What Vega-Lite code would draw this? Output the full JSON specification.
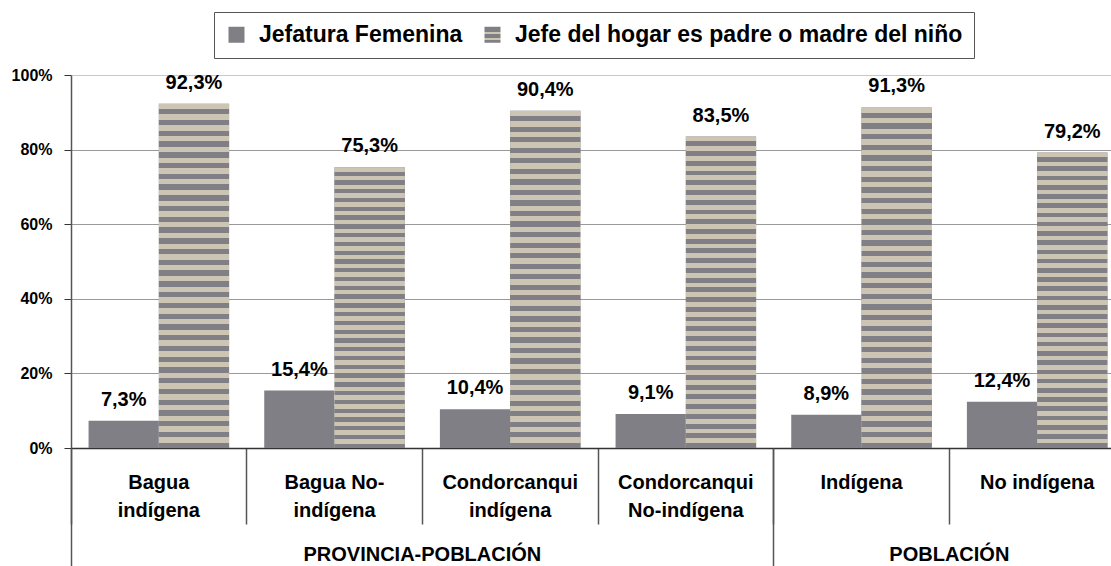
{
  "$schema": "https://vega.github.io/schema/vega-lite/v6.json",
  "width": 1040,
  "height": 373,
  "autosize": "none",
  "padding": {"left": 71, "top": 75, "right": 0, "bottom": 118},
  "background": "white",
  "config": {"view": {"stroke": null}},
  "data": {"values": [
    {"cat": "Bagua indígena", "serie": "Jefatura Femenina", "value": 7.3, "label": "7,3%"},
    {"cat": "Bagua indígena", "serie": "Jefe del hogar es padre o madre del niño", "value": 92.3, "label": "92,3%"},
    {"cat": "Bagua No-indígena", "serie": "Jefatura Femenina", "value": 15.4, "label": "15,4%"},
    {"cat": "Bagua No-indígena", "serie": "Jefe del hogar es padre o madre del niño", "value": 75.3, "label": "75,3%"},
    {"cat": "Condorcanqui indígena", "serie": "Jefatura Femenina", "value": 10.4, "label": "10,4%"},
    {"cat": "Condorcanqui indígena", "serie": "Jefe del hogar es padre o madre del niño", "value": 90.4, "label": "90,4%"},
    {"cat": "Condorcanqui No-indígena", "serie": "Jefatura Femenina", "value": 9.1, "label": "9,1%"},
    {"cat": "Condorcanqui No-indígena", "serie": "Jefe del hogar es padre o madre del niño", "value": 83.5, "label": "83,5%"},
    {"cat": "Indígena", "serie": "Jefatura Femenina", "value": 8.9, "label": "8,9%"},
    {"cat": "Indígena", "serie": "Jefe del hogar es padre o madre del niño", "value": 91.3, "label": "91,3%"},
    {"cat": "No indígena", "serie": "Jefatura Femenina", "value": 12.4, "label": "12,4%"},
    {"cat": "No indígena", "serie": "Jefe del hogar es padre o madre del niño", "value": 79.2, "label": "79,2%"}
  ]},
  "encoding": {
    "xOffset": {"field": "serie", "type": "nominal", "sort": ["Jefatura Femenina", "Jefe del hogar es padre o madre del niño"], "scale": {"paddingInner": 0, "paddingOuter": 0.25}},
    "y": {
      "field": "value", "type": "quantitative",
      "scale": {"domain": [0, 100]},
      "axis": {
        "title": null, "values": [0, 20, 40, 60, 80, 100],
        "labelExpr": "datum.value + '%'",
        "labelFont": "Liberation Sans", "labelFontWeight": "bold", "labelFontSize": 16, "labelColor": "black",
        "labelPadding": 12, "tickSize": 7, "tickColor": "#333", "domainColor": "#555", "domainWidth": 1.5,
        "gridColor": {"condition": {"test": "datum.value == 100", "value": "#c8c8c8"}, "value": "#999999"},
        "gridWidth": 1.2
      }
    }
  },
  "layer": [
    {
      "mark": {"type": "bar"},
      "encoding": {
        "x": {
          "field": "cat", "type": "nominal",
          "sort": ["Bagua indígena", "Bagua No-indígena", "Condorcanqui indígena", "Condorcanqui No-indígena", "Indígena", "No indígena"],
          "scale": {"range": [0, 1054], "paddingInner": 0, "paddingOuter": 0},
          "axis": {
            "orient": "bottom", "title": null, "bandPosition": 0, "tickSize": 76, "tickColor": "#555", "tickWidth": 1.5,
            "domainColor": "#333", "domainWidth": 1.5, "labelAngle": 0,
            "labelFont": "Liberation Sans", "labelFontWeight": "bold", "labelFontSize": 20, "labelColor": "black",
            "labelPadding": -52, "labelLineHeight": 28, "labelBound": false, "labelOverlap": false,
            "labelExpr": "datum.value == 'Bagua No-indígena' ? ['Bagua No-', 'indígena'] : (datum.value == 'Indígena' || datum.value == 'No indígena') ? datum.value : split(datum.value, ' ')"
          }
        },
        "fill": {
          "field": "serie", "type": "nominal",
          "sort": ["Jefatura Femenina", "Jefe del hogar es padre o madre del niño"],
          "scale": {"range": ["#7f7f85", {"expr": "{gradient: 'linear', x1: 0, y1: 0, x2: 0, y2: 1, stops: [{offset: 0, color: '#7f7f85'}, {offset: 0.3, color: '#7f7f85'}, {offset: 0.3, color: '#cdc5b4'}, {offset: 0.45, color: '#cdc5b4'}, {offset: 0.45, color: '#7f7f85'}, {offset: 0.7, color: '#7f7f85'}, {offset: 0.7, color: '#cdc5b4'}, {offset: 0.85, color: '#cdc5b4'}, {offset: 0.85, color: '#7f7f85'}, {offset: 1, color: '#7f7f85'}]}"}]},
          "legend": {
            "orient": "none", "legendX": 143, "legendY": -63, "direction": "horizontal", "title": null,
            "strokeColor": "#555", "padding": 11, "symbolType": "square", "symbolSize": 256, "symbolStrokeWidth": 0,
            "labelFont": "Liberation Sans", "labelFontWeight": "bold", "labelFontSize": 23, "labelColor": "black",
            "columnPadding": 18, "labelLimit": 600, "labelOffset": 11
          }
        }
      }
    },
    {
      "transform": [{"filter": "datum.serie != 'Jefatura Femenina'"}],
      "mark": {"type": "bar", "fill": {"gradient": "linear", "x1": 0, "y1": 0, "x2": 0, "y2": 1, "stops": [
        {"offset": 0, "color": "#cdc5b4"}, {"offset": 0.015625, "color": "#cdc5b4"},
        {"offset": 0.015625, "color": "#7f7f85"}, {"offset": 0.03125, "color": "#7f7f85"},
        {"offset": 0.03125, "color": "#cdc5b4"}, {"offset": 0.046875, "color": "#cdc5b4"},
        {"offset": 0.046875, "color": "#7f7f85"}, {"offset": 0.0625, "color": "#7f7f85"},
        {"offset": 0.0625, "color": "#cdc5b4"}, {"offset": 0.078125, "color": "#cdc5b4"},
        {"offset": 0.078125, "color": "#7f7f85"}, {"offset": 0.09375, "color": "#7f7f85"},
        {"offset": 0.09375, "color": "#cdc5b4"}, {"offset": 0.109375, "color": "#cdc5b4"},
        {"offset": 0.109375, "color": "#7f7f85"}, {"offset": 0.125, "color": "#7f7f85"},
        {"offset": 0.125, "color": "#cdc5b4"}, {"offset": 0.140625, "color": "#cdc5b4"},
        {"offset": 0.140625, "color": "#7f7f85"}, {"offset": 0.15625, "color": "#7f7f85"},
        {"offset": 0.15625, "color": "#cdc5b4"}, {"offset": 0.171875, "color": "#cdc5b4"},
        {"offset": 0.171875, "color": "#7f7f85"}, {"offset": 0.1875, "color": "#7f7f85"},
        {"offset": 0.1875, "color": "#cdc5b4"}, {"offset": 0.203125, "color": "#cdc5b4"},
        {"offset": 0.203125, "color": "#7f7f85"}, {"offset": 0.21875, "color": "#7f7f85"},
        {"offset": 0.21875, "color": "#cdc5b4"}, {"offset": 0.234375, "color": "#cdc5b4"},
        {"offset": 0.234375, "color": "#7f7f85"}, {"offset": 0.25, "color": "#7f7f85"},
        {"offset": 0.25, "color": "#cdc5b4"}, {"offset": 0.265625, "color": "#cdc5b4"},
        {"offset": 0.265625, "color": "#7f7f85"}, {"offset": 0.28125, "color": "#7f7f85"},
        {"offset": 0.28125, "color": "#cdc5b4"}, {"offset": 0.296875, "color": "#cdc5b4"},
        {"offset": 0.296875, "color": "#7f7f85"}, {"offset": 0.3125, "color": "#7f7f85"},
        {"offset": 0.3125, "color": "#cdc5b4"}, {"offset": 0.328125, "color": "#cdc5b4"},
        {"offset": 0.328125, "color": "#7f7f85"}, {"offset": 0.34375, "color": "#7f7f85"},
        {"offset": 0.34375, "color": "#cdc5b4"}, {"offset": 0.359375, "color": "#cdc5b4"},
        {"offset": 0.359375, "color": "#7f7f85"}, {"offset": 0.375, "color": "#7f7f85"},
        {"offset": 0.375, "color": "#cdc5b4"}, {"offset": 0.390625, "color": "#cdc5b4"},
        {"offset": 0.390625, "color": "#7f7f85"}, {"offset": 0.40625, "color": "#7f7f85"},
        {"offset": 0.40625, "color": "#cdc5b4"}, {"offset": 0.421875, "color": "#cdc5b4"},
        {"offset": 0.421875, "color": "#7f7f85"}, {"offset": 0.4375, "color": "#7f7f85"},
        {"offset": 0.4375, "color": "#cdc5b4"}, {"offset": 0.453125, "color": "#cdc5b4"},
        {"offset": 0.453125, "color": "#7f7f85"}, {"offset": 0.46875, "color": "#7f7f85"},
        {"offset": 0.46875, "color": "#cdc5b4"}, {"offset": 0.484375, "color": "#cdc5b4"},
        {"offset": 0.484375, "color": "#7f7f85"}, {"offset": 0.5, "color": "#7f7f85"},
        {"offset": 0.5, "color": "#cdc5b4"}, {"offset": 0.515625, "color": "#cdc5b4"},
        {"offset": 0.515625, "color": "#7f7f85"}, {"offset": 0.53125, "color": "#7f7f85"},
        {"offset": 0.53125, "color": "#cdc5b4"}, {"offset": 0.546875, "color": "#cdc5b4"},
        {"offset": 0.546875, "color": "#7f7f85"}, {"offset": 0.5625, "color": "#7f7f85"},
        {"offset": 0.5625, "color": "#cdc5b4"}, {"offset": 0.578125, "color": "#cdc5b4"},
        {"offset": 0.578125, "color": "#7f7f85"}, {"offset": 0.59375, "color": "#7f7f85"},
        {"offset": 0.59375, "color": "#cdc5b4"}, {"offset": 0.609375, "color": "#cdc5b4"},
        {"offset": 0.609375, "color": "#7f7f85"}, {"offset": 0.625, "color": "#7f7f85"},
        {"offset": 0.625, "color": "#cdc5b4"}, {"offset": 0.640625, "color": "#cdc5b4"},
        {"offset": 0.640625, "color": "#7f7f85"}, {"offset": 0.65625, "color": "#7f7f85"},
        {"offset": 0.65625, "color": "#cdc5b4"}, {"offset": 0.671875, "color": "#cdc5b4"},
        {"offset": 0.671875, "color": "#7f7f85"}, {"offset": 0.6875, "color": "#7f7f85"},
        {"offset": 0.6875, "color": "#cdc5b4"}, {"offset": 0.703125, "color": "#cdc5b4"},
        {"offset": 0.703125, "color": "#7f7f85"}, {"offset": 0.71875, "color": "#7f7f85"},
        {"offset": 0.71875, "color": "#cdc5b4"}, {"offset": 0.734375, "color": "#cdc5b4"},
        {"offset": 0.734375, "color": "#7f7f85"}, {"offset": 0.75, "color": "#7f7f85"},
        {"offset": 0.75, "color": "#cdc5b4"}, {"offset": 0.765625, "color": "#cdc5b4"},
        {"offset": 0.765625, "color": "#7f7f85"}, {"offset": 0.78125, "color": "#7f7f85"},
        {"offset": 0.78125, "color": "#cdc5b4"}, {"offset": 0.796875, "color": "#cdc5b4"},
        {"offset": 0.796875, "color": "#7f7f85"}, {"offset": 0.8125, "color": "#7f7f85"},
        {"offset": 0.8125, "color": "#cdc5b4"}, {"offset": 0.828125, "color": "#cdc5b4"},
        {"offset": 0.828125, "color": "#7f7f85"}, {"offset": 0.84375, "color": "#7f7f85"},
        {"offset": 0.84375, "color": "#cdc5b4"}, {"offset": 0.859375, "color": "#cdc5b4"},
        {"offset": 0.859375, "color": "#7f7f85"}, {"offset": 0.875, "color": "#7f7f85"},
        {"offset": 0.875, "color": "#cdc5b4"}, {"offset": 0.890625, "color": "#cdc5b4"},
        {"offset": 0.890625, "color": "#7f7f85"}, {"offset": 0.90625, "color": "#7f7f85"},
        {"offset": 0.90625, "color": "#cdc5b4"}, {"offset": 0.921875, "color": "#cdc5b4"},
        {"offset": 0.921875, "color": "#7f7f85"}, {"offset": 0.9375, "color": "#7f7f85"},
        {"offset": 0.9375, "color": "#cdc5b4"}, {"offset": 0.953125, "color": "#cdc5b4"},
        {"offset": 0.953125, "color": "#7f7f85"}, {"offset": 0.96875, "color": "#7f7f85"},
        {"offset": 0.96875, "color": "#cdc5b4"}, {"offset": 0.984375, "color": "#cdc5b4"},
        {"offset": 0.984375, "color": "#7f7f85"}, {"offset": 1, "color": "#7f7f85"}
      ]}},
      "encoding": {
        "x": {
          "field": "cat", "type": "nominal",
          "sort": ["Bagua indígena", "Bagua No-indígena", "Condorcanqui indígena", "Condorcanqui No-indígena", "Indígena", "No indígena"],
          "axis": null
        }
      }
    },
    {
      "mark": {"type": "text", "font": "Liberation Sans", "fontWeight": "bold", "fontSize": 20, "baseline": "alphabetic", "dy": -15, "color": "black"},
      "encoding": {
        "text": {"field": "label"},
        "x": {
          "field": "cat", "type": "nominal",
          "sort": ["Bagua indígena", "Bagua No-indígena", "Condorcanqui indígena", "Condorcanqui No-indígena", "Indígena", "No indígena"],
          "axis": {
            "orient": "bottom", "title": null, "domain": false, "bandPosition": 0, "tickSize": 118, "tickColor": "#555", "tickWidth": 1.5,
            "tickOpacity": {"condition": {"test": "datum.value == 'Bagua indígena' || datum.value == 'Indígena'", "value": 1}, "value": 0},
            "labelExpr": "datum.value == 'Condorcanqui indígena' ? 'PROVINCIA-POBLACIÓN' : datum.value == 'No indígena' ? 'POBLACIÓN' : ''",
            "labelOffset": -87.8, "labelPadding": -22, "labelAngle": 0, "labelLimit": 500,
            "labelFont": "Liberation Sans", "labelFontWeight": "bold", "labelFontSize": 20, "labelColor": "black",
            "labelOverlap": false, "labelBound": false
          }
        }
      }
    }
  ],
  "resolve": {"axis": {"x": "independent"}}
}
